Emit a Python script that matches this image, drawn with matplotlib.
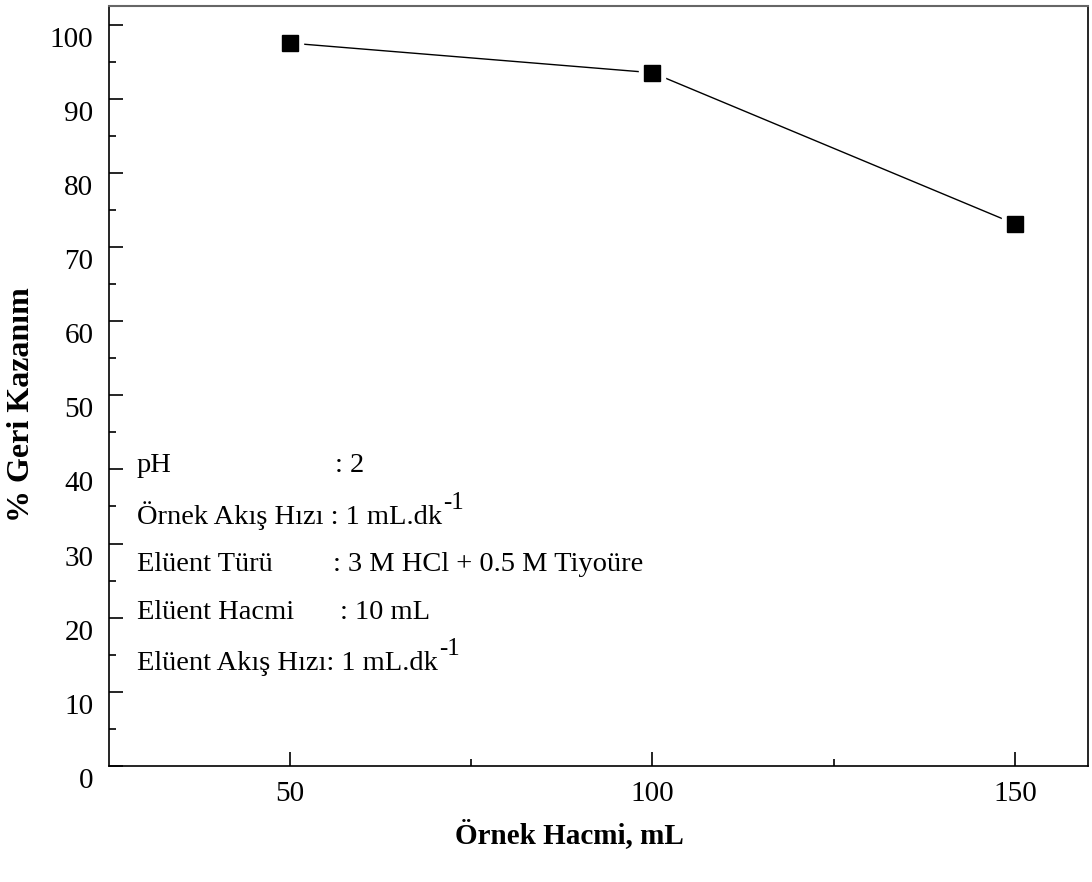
import matplotlib
matplotlib.use('Agg')
import matplotlib.pyplot as plt
from matplotlib.ticker import MultipleLocator, FixedLocator
from matplotlib.transforms import ScaledTranslation

plt.rcParams['font.family'] = ['Liberation Serif', 'DejaVu Serif']

# data
sample_volume = [50, 100, 150]
recovery = [97.5, 93.5, 73.1]

x_major = [50, 100, 150]
x_minor = [75, 125]

# (label, value, x of value, superscript)
conditions = [
    ('pH', ': 2', 0.231, ''),
    ('Örnek Akış Hızı : 1 mL.dk', '', None, '-1'),
    ('Elüent Türü', ': 3 M HCl + 0.5 M Tiyoüre', 0.229, ''),
    ('Elüent Hacmi', ': 10 mL', 0.236, ''),
    ('Elüent Akış Hızı: 1 mL.dk', '', None, '-1'),
]
cond_y = [0.387, 0.318, 0.257, 0.194, 0.126]


def main():
    fig = plt.figure(figsize=(10.92, 8.82), dpi=100)
    ax = fig.add_axes([0.0994, 0.1315, 0.8966, 0.8617])

    ax.plot(sample_volume, recovery, color='black', lw=1.0, zorder=1)
    ax.plot(sample_volume, recovery, ls='none', marker='s', ms=19,
            mfc='white', mec='white', zorder=2)
    ax.plot(sample_volume, recovery, ls='none', marker='s', ms=11.5,
            mfc='black', mec='black', zorder=3)

    ax.set_xlim(25, 160)
    ax.set_ylim(0, 102.5)

    ax.xaxis.set_major_locator(FixedLocator(x_major))
    ax.xaxis.set_minor_locator(FixedLocator(x_minor))
    ax.yaxis.set_major_locator(MultipleLocator(10))
    ax.yaxis.set_minor_locator(MultipleLocator(5))

    ax.tick_params(which='both', direction='in', top=False, right=False,
                   labelsize=21, width=1.2, color='black')
    ax.tick_params(which='major', length=10)
    ax.tick_params(which='minor', length=5)
    ax.tick_params(axis='x', pad=11)
    ax.tick_params(axis='y', pad=11)

    for lab in ax.get_yticklabels():
        lab.set_transform(lab.get_transform() +
                          ScaledTranslation(0, -0.12, fig.dpi_scale_trans))

    for side in ['left', 'bottom', 'right']:
        ax.spines[side].set_linewidth(1.2)
        ax.spines[side].set_color('black')
    ax.spines['top'].set_linewidth(1.5)
    ax.spines['top'].set_color('#666666')

    ax.set_xlabel('Örnek Hacmi, mL', fontsize=21, fontweight='bold')
    ax.xaxis.set_label_coords(0.471, -0.07)
    ax.set_ylabel('% Geri Kazanım', fontsize=23, fontweight='bold')
    ax.yaxis.set_label_coords(-0.074, 0.475)

    for (label, value, vx, sup), y in zip(conditions, cond_y):
        t = ax.text(0.029, y, label, transform=ax.transAxes, fontsize=20.5,
                    ha='left', va='baseline')
        if value:
            ax.text(vx, y, value, transform=ax.transAxes, fontsize=20.5,
                    ha='left', va='baseline')
        if sup:
            ax.annotate(sup, xy=(1, 0), xycoords=t, xytext=(1, 12),
                        textcoords='offset points', fontsize=18,
                        ha='left', va='bottom')

    fig.savefig('out.png', dpi=100)


if __name__ == "__main__":
    main()
